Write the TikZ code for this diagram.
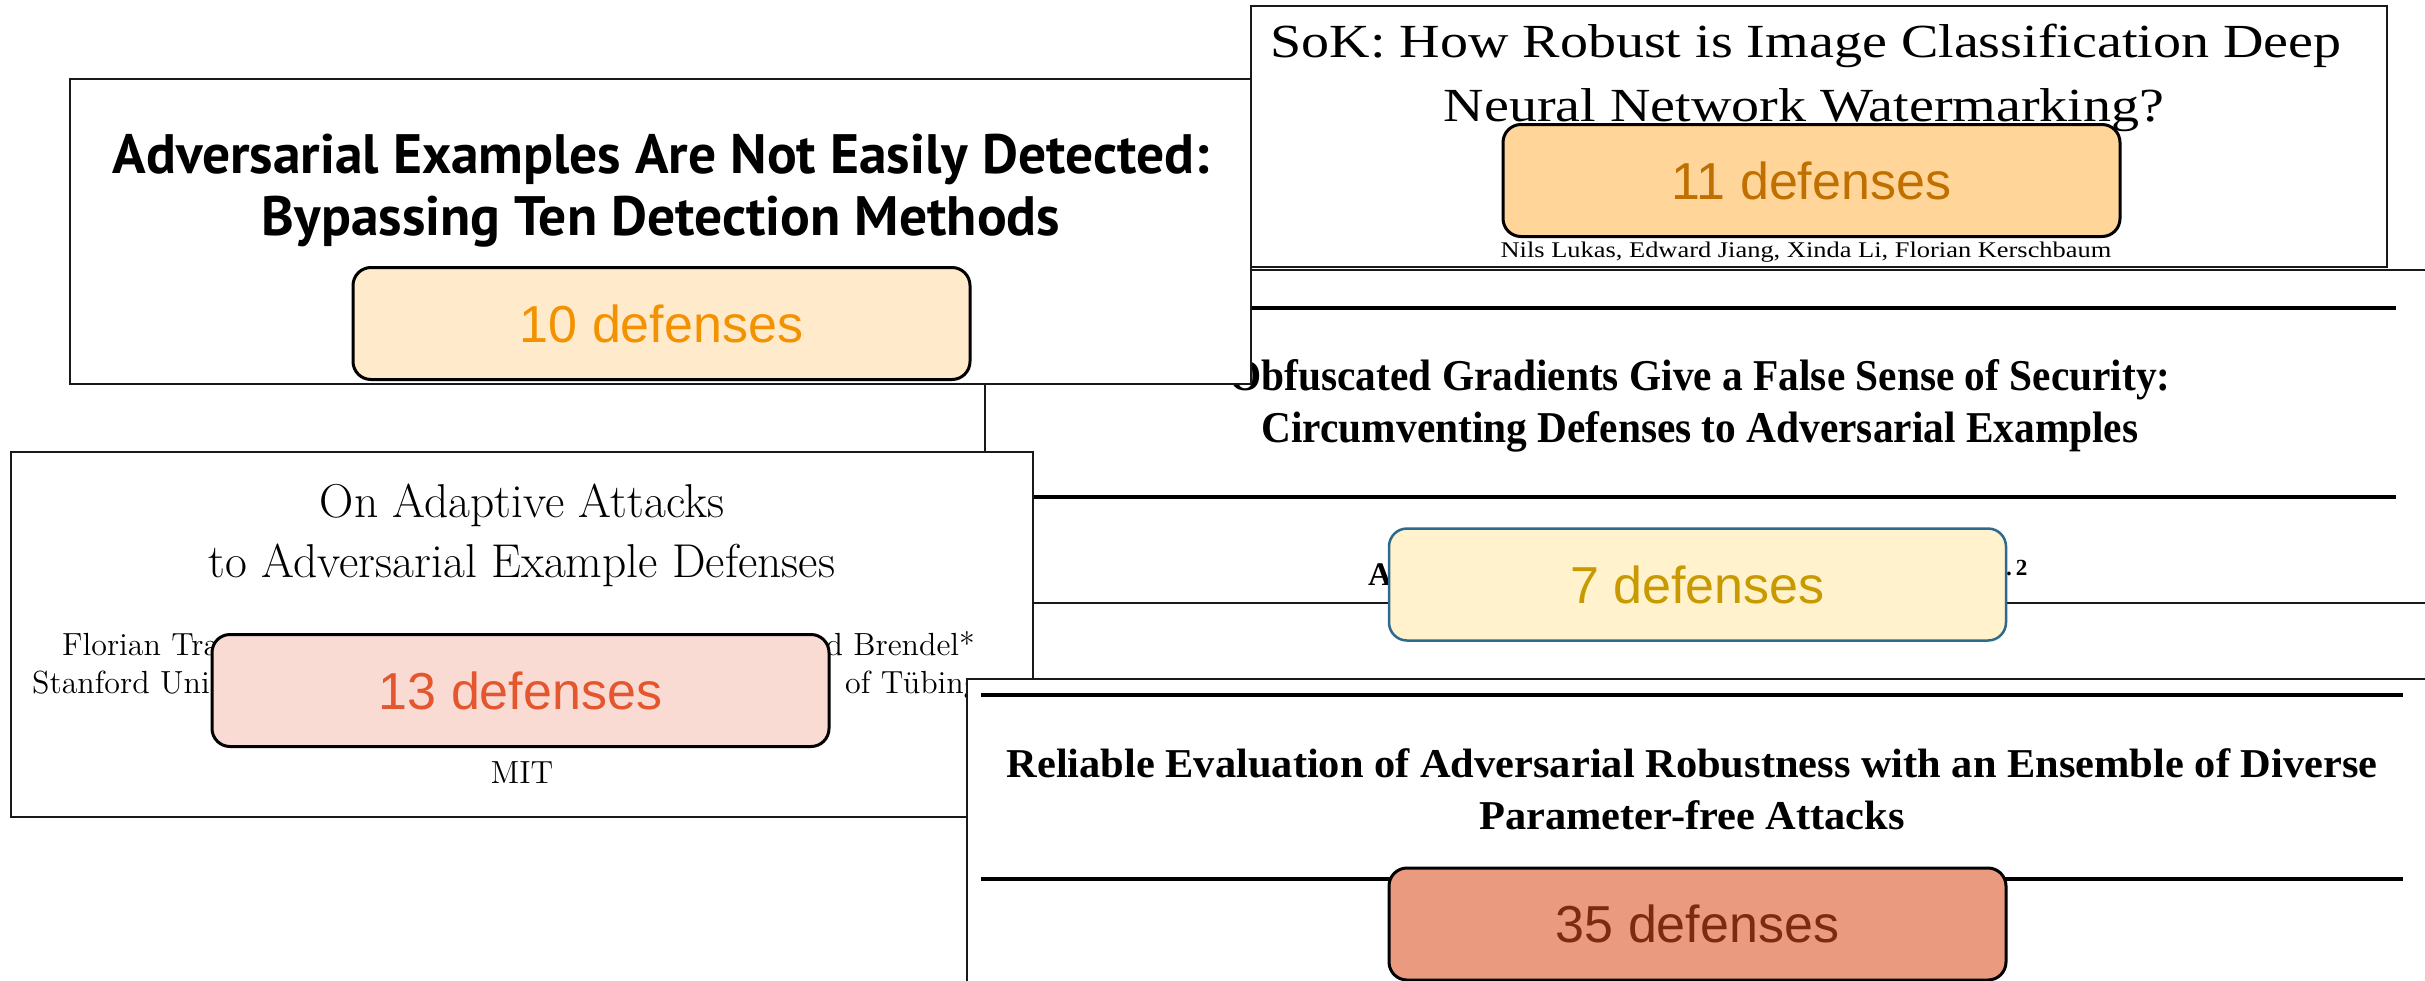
\documentclass[tikz,border=0pt]{standalone}
\usepackage{fontspec}
\usepackage{graphicx}
\newfontfamily\serifT{Liberation Serif}
\newfontfamily\sansA{Liberation Sans}
\newfontfamily\humsans{PT Sans}
\newfontfamily\lmtwelve{lmroman12-regular.otf}

\definecolor{fillten}{HTML}{FFEBCC}
\definecolor{textten}{HTML}{F39200}
\definecolor{filleleven}{HTML}{FFD599}
\definecolor{texteleven}{HTML}{BF7000}
\definecolor{fillthirteen}{HTML}{FADBD3}
\definecolor{textthirteen}{HTML}{E4572E}
\definecolor{fillseven}{HTML}{FFF2CC}
\definecolor{textseven}{HTML}{C99A00}
\definecolor{edgeseven}{HTML}{2E6A8E}
\definecolor{fillthirtyfive}{HTML}{EA9A7F}
\definecolor{textthirtyfive}{HTML}{7E2A10}

% horizontal stretch of a line of text
\newcommand{\hstretch}[2]{\scalebox{#1}[1]{#2}}
\newcommand{\fsz}[1]{\fontsize{#1}{#1}\selectfont}

\tikzset{
  panel/.style={draw=black!90, line width=2pt, fill=white},
  titlerule/.style={draw=black, line width=3.5pt},
  txt/.style={anchor=base, inner sep=0pt, text=black},
  defbox/.style={draw=black, line width=3pt, rounded corners=18pt,
    minimum width=617pt, minimum height=112pt, inner sep=0pt,
    font=\sansA\fsz{52}},
}

\begin{document}
\begin{tikzpicture}[x=1pt,y=-1pt]
\useasboundingbox (0,0) rectangle (2425,980);
\clip (0,0) rectangle (2425,980);

% --- Obfuscated Gradients page (back) ---
\path[panel] (985,270) rectangle (2440,603);
\draw[titlerule] (1004,308) -- (2396,308);
\draw[titlerule] (1004,497) -- (2396,497);
\node[txt, font=\serifT\bfseries\fsz{44}] (o1) at (1700,390)
  {\hstretch{0.94}{Obfuscated Gradients Give a False Sense of Security:}};
\node[txt, font=\serifT\bfseries\fsz{44}] (o2) at (1700,442)
  {\hstretch{0.94}{Circumventing Defenses to Adversarial Examples}};
\node[txt, anchor=base west, font=\serifT\bfseries\fsz{33}] (o3) at (1368,585) {A};
\node[txt, anchor=base west, font=\serifT\bfseries\fsz{33}] (o4) at (2006,585) {\textsuperscript{.\,2}};

% --- Adversarial Examples page ---
\path[panel] (70,79) rectangle (1251,384);
\node[txt, font=\humsans\bfseries\fsz{55.5}] (a1) at (661,173)
  {Adversarial Examples Are Not Easily Detected:};
\node[txt, font=\humsans\bfseries\fsz{55.5}] (a2) at (661,235)
  {Bypassing Ten Detection Methods};

% --- SoK page ---
\path[panel] (1251,6) rectangle (2387,267);
\node[txt, font=\serifT\fsz{47.5}] (s1) at (1806,57)
  {\hstretch{1.18}{SoK: How Robust is Image Classification Deep}};
\node[txt, font=\serifT\fsz{47.5}] (s2) at (1804,121)
  {\hstretch{1.18}{Neural Network Watermarking?}};
\node[txt, font=\serifT\fsz{22.4}] (s3) at (1806,257)
  {\hstretch{1.18}{Nils Lukas, Edward Jiang, Xinda Li, Florian Kerschbaum}};

% --- Adaptive Attacks page ---
\path[panel] (11,452) rectangle (1033,817);
\node[txt, font=\fsz{47.5}] (p1) at (522,517) {On Adaptive Attacks};
\node[txt, font=\fsz{47.5}] (p2) at (522,577) {to Adversarial Example Defenses};
\node[txt, anchor=base west, font=\lmtwelve\fsz{32}] (p3) at (62,655) {Florian Tra};
\node[txt, anchor=base east, font=\lmtwelve\fsz{32}] (p4) at (975,655) {d Brendel*};
\node[txt, anchor=base west, font=\lmtwelve\fsz{32}] (p5) at (32,693) {Stanford Uni};
\node[txt, anchor=base west, font=\lmtwelve\fsz{32}] (p6) at (845,693) {of Tübingen};
\node[txt, font=\lmtwelve\fsz{32}] (p7) at (522,783) {MIT};

% --- Reliable Evaluation page (front) ---
\path[panel] (967,679) rectangle (2440,1000);
\draw[titlerule] (981,695) -- (2403,695);
\draw[titlerule] (981,879) -- (2403,879);
\node[txt, font=\serifT\bfseries\fsz{41}] (c1) at (1692,777)
  {\hstretch{1.035}{Reliable Evaluation of Adversarial Robustness with an Ensemble of Diverse}};
\node[txt, font=\serifT\bfseries\fsz{41}] (c2) at (1692,829)
  {\hstretch{1.035}{Parameter-free Attacks}};

% --- defense counts ---
\node[defbox, fill=fillten, text=textten] (d10) at (661.5,323.5) {10 defenses};
\node[defbox, fill=filleleven, text=texteleven] (d11) at (1811.5,180.5) {11 defenses};
\node[defbox, fill=fillthirteen, text=textthirteen] (d13) at (520.5,690.5) {13 defenses};
\node[defbox, fill=fillseven, text=textseven, draw=edgeseven, line width=2.5pt] (d7) at (1697.5,584.5) {7 defenses};
\node[defbox, fill=fillthirtyfive, text=textthirtyfive] (d35) at (1697.5,924) {35 defenses};
\end{tikzpicture}
\end{document}
